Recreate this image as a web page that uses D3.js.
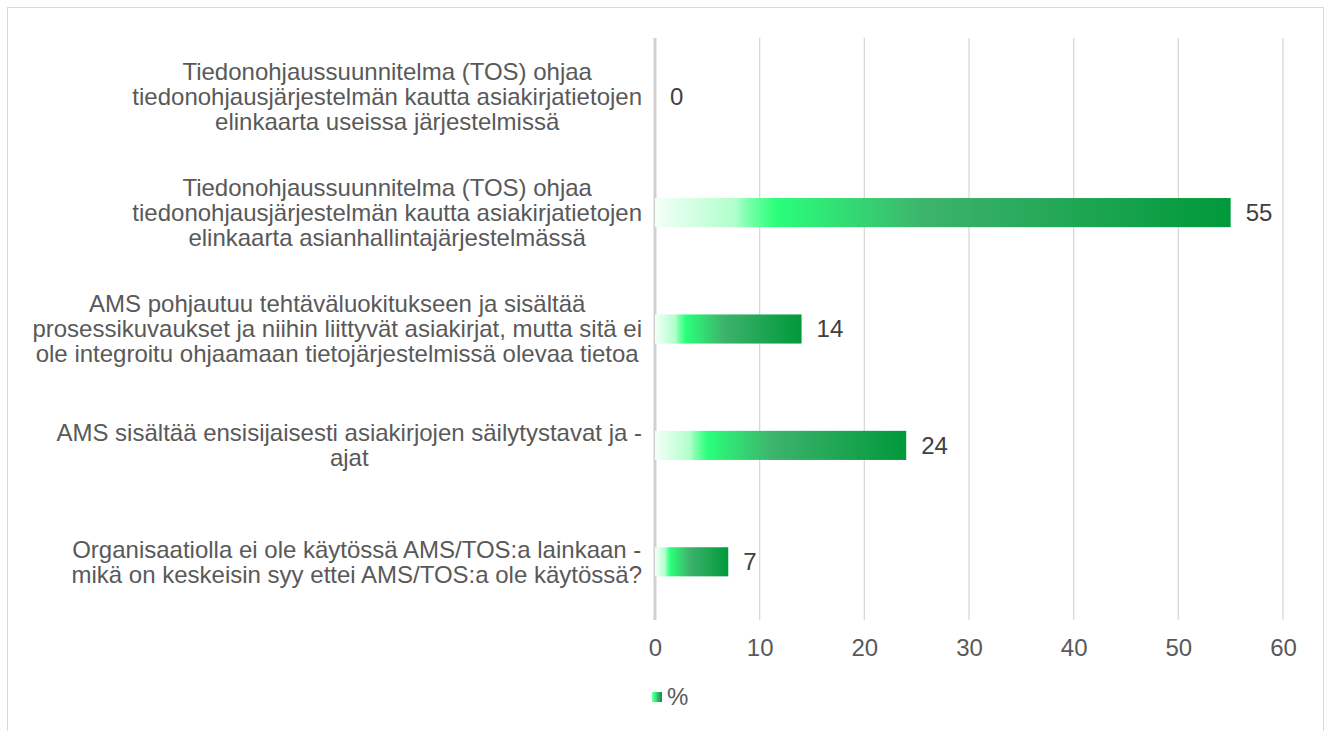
<!DOCTYPE html>
<html>
<head>
<meta charset="utf-8">
<script src="https://d3js.org/d3.v7.min.js"></script>
<style>
  body { margin: 0; background: #fff; font-family: "Liberation Sans", Arial, sans-serif; }
  text { font-family: "Liberation Sans", Arial, sans-serif; }
</style>
</head>
<body>
<div id="chart"></div>
<script>
// categories (top to bottom), each split into its printed lines
var categories = [
  ["Tiedonohjaussuunnitelma (TOS) ohjaa", "tiedonohjausjärjestelmän kautta asiakirjatietojen", "elinkaarta useissa järjestelmissä"],
  ["Tiedonohjaussuunnitelma (TOS) ohjaa", "tiedonohjausjärjestelmän kautta asiakirjatietojen", "elinkaarta asianhallintajärjestelmässä"],
  ["AMS pohjautuu tehtäväluokitukseen ja sisältää", "prosessikuvaukset ja niihin liittyvät asiakirjat, mutta sitä ei", "ole integroitu ohjaamaan tietojärjestelmissä olevaa tietoa"],
  ["AMS sisältää ensisijaisesti asiakirjojen säilytystavat ja -", "ajat"],
  ["Organisaatiolla ei ole käytössä AMS/TOS:a lainkaan -", "mikä on keskeisin syy ettei AMS/TOS:a ole käytössä?"]
];
var values = [0, 55, 14, 24, 7];
var xTicks = [0, 10, 20, 30, 40, 50, 60];
var seriesName = "%";

var W = 1331, H = 731;
var plot = { left: 655, right: 1283, top: 38, bottom: 620 };
var fontSize = "24px";
var textColor = "#595959";

var svg = d3.select("#chart").append("svg")
  .attr("width", W).attr("height", H);

// outer chart frame
svg.append("rect")
  .attr("x", 7.5).attr("y", 7.5)
  .attr("width", 1316).attr("height", 740)
  .attr("fill", "#fff").attr("stroke", "#d9d9d9").attr("stroke-width", 1);

var defs = svg.append("defs");
var grad = defs.append("linearGradient").attr("id", "barGrad")
  .attr("x1", "0%").attr("x2", "100%").attr("y1", "0%").attr("y2", "0%");
[[0, "#f4fff8"], [0.14, "#b0ffcc"], [0.16, "#7dffac"], [0.21, "#2aff7a"],
 [0.47, "#3db36c"], [1, "#00993a"]].forEach(function (s) {
  grad.append("stop").attr("offset", s[0]).attr("stop-color", s[1]);
});

var x = d3.scaleLinear().domain([0, 60]).range([plot.left, plot.right]);
var y = d3.scaleBand().domain(d3.range(categories.length))
  .range([plot.top, plot.bottom]).paddingInner(0.75).paddingOuter(0.375);

// gridlines
svg.append("g").selectAll("line")
  .data(xTicks.slice(1))
  .enter().append("line")
  .attr("x1", function (d) { return x(d); })
  .attr("x2", function (d) { return x(d); })
  .attr("y1", plot.top).attr("y2", plot.bottom)
  .attr("stroke", "#d9d9d9").attr("stroke-width", 1.3);

// value axis line at 0
svg.append("line")
  .attr("x1", x(0)).attr("x2", x(0))
  .attr("y1", plot.top).attr("y2", plot.bottom)
  .attr("stroke", "#d0d0d0").attr("stroke-width", 3);

// bars
svg.append("g").selectAll("rect")
  .data(values)
  .enter().append("rect")
  .attr("x", x(0))
  .attr("y", function (d, i) { return y(i); })
  .attr("width", function (d) { return x(d) - x(0); })
  .attr("height", y.bandwidth())
  .attr("fill", "url(#barGrad)");

// value labels
svg.append("g").selectAll("text")
  .data(values)
  .enter().append("text")
  .attr("x", function (d) { return x(d) + 15; })
  .attr("y", function (d, i) { return y(i) + y.bandwidth() / 2; })
  .attr("dy", "0.35em")
  .attr("font-size", fontSize)
  .attr("fill", "#404040")
  .text(function (d) { return d; });

// x axis tick labels
var xAxis = svg.append("g")
  .attr("transform", "translate(0," + plot.bottom + ")")
  .call(d3.axisBottom(x).tickValues(xTicks).tickSize(0).tickPadding(19));
xAxis.select(".domain").remove();
xAxis.selectAll("text")
  .attr("font-size", fontSize)
  .attr("font-family", "Liberation Sans, Arial, sans-serif")
  .attr("fill", textColor);

// category labels: lines centred inside a block right-aligned to the axis
var labelRight = 642;
categories.forEach(function (lines, i) {
  var g = svg.append("g");
  var lh = 25;
  var cy = y(i) + y.bandwidth() / 2;
  var t = g.append("text")
    .attr("font-size", fontSize)
    .attr("fill", textColor)
    .attr("text-anchor", "middle");
  lines.forEach(function (ln, j) {
    t.append("tspan")
      .attr("x", 0)
      .attr("y", cy + (j - (lines.length - 1) / 2) * lh)
      .attr("dy", "0.35em")
      .text(ln);
  });
  var w = t.node().getBBox().width;
  g.attr("transform", "translate(" + (labelRight - w / 2) + ",0)");
});

// legend
var legGrad = defs.append("linearGradient").attr("id", "legGrad")
  .attr("x1", "0%").attr("x2", "100%");
[[0, "#7dffac"], [0.3, "#2aff7a"], [0.6, "#3db36c"], [1, "#00993a"]].forEach(function (s) {
  legGrad.append("stop").attr("offset", s[0]).attr("stop-color", s[1]);
});
var leg = svg.append("g").attr("transform", "translate(652,692)");
leg.append("rect").attr("width", 10).attr("height", 10).attr("fill", "url(#legGrad)");
leg.append("text").attr("x", 15).attr("y", 5).attr("dy", "0.35em")
  .attr("font-size", fontSize).attr("fill", textColor).text(seriesName);
</script>
</body>
</html>
